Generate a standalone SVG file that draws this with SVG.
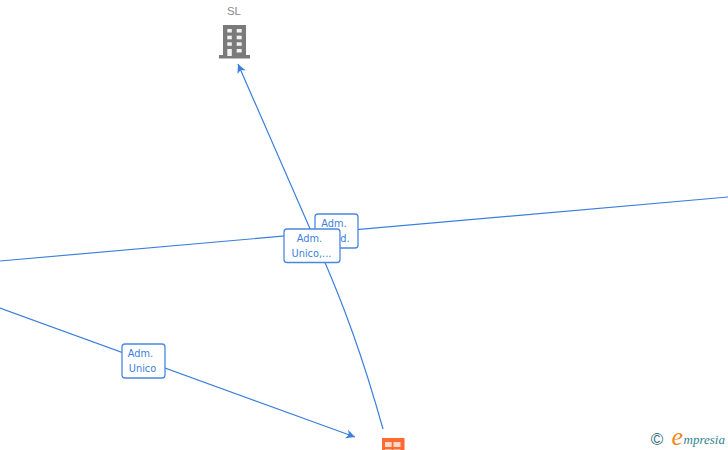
<svg xmlns="http://www.w3.org/2000/svg" width="728" height="450" viewBox="0 0 728 450">
<defs>
<style>
.edge{fill:none;stroke:#3b7fdc;stroke-width:1.2}
.lbl{fill:#fff;stroke:#4a88e0;stroke-width:1.3}
.lt{font-family:"DejaVu Sans",Verdana,sans-serif;font-size:9.8px;fill:#3b7fdc;text-anchor:middle}
</style>
<marker id="arr" markerWidth="12" markerHeight="10" refX="9" refY="5" orient="auto" markerUnits="userSpaceOnUse">
<path d="M0,0.500 L9,5 L0,9.500 L2.500,5 Z" fill="#3b7fdc"/>
</marker>
</defs>
<rect width="728" height="450" fill="#fff"/>
<g id="connectors">
<path class="edge" d="M383,429 C365,365 345,305 311,231 L238,64" marker-end="url(#arr)"/>
<path class="edge" d="M0,261 L728,197"/>
<path class="edge" d="M0,308 L355,437" marker-end="url(#arr)"/>
</g>
<g id="node-sl">
<text x="234" y="15" font-family="'Liberation Sans',Arial,sans-serif" font-size="11.500" fill="#8a8a8a" text-anchor="middle">SL</text>
<path fill="#7a7a7a" d="M223,25H246V55H250V58.500H219V55H223Z"/>
<g fill="#f2f2f2">
<rect x="227.300" y="29" width="4.500" height="3.500"/><rect x="236.700" y="29" width="5" height="3.500"/>
<rect x="227.300" y="35.700" width="4.500" height="3.600"/><rect x="236.700" y="35.700" width="5" height="3.600"/>
<rect x="227.300" y="42.300" width="4.500" height="3.500"/><rect x="236.700" y="42.300" width="5" height="3.500"/>
<rect x="227.300" y="49" width="4.500" height="7"/><rect x="236.700" y="49" width="5" height="3.500"/>
</g>
</g>
<g id="label-2">
<rect class="lbl" x="315" y="214" width="43" height="34" rx="3"/>
<text class="lt" x="334" y="227">Adm.</text>
<text class="lt" x="336" y="242">Solid.</text>
</g>
<g id="label-1">
<rect class="lbl" x="284" y="229" width="56" height="33.500" rx="3"/>
<text class="lt" x="309.500" y="242">Adm.</text>
<text class="lt" x="311.500" y="257">Unico,...</text>
</g>
<g id="label-3">
<rect class="lbl" x="122" y="344" width="43" height="34" rx="3"/>
<text class="lt" x="140.500" y="357">Adm.</text>
<text class="lt" x="142.500" y="372">Unico</text>
</g>
<g id="node-orange">
<rect x="382" y="438" width="22.500" height="12" fill="#ff6a33"/>
<rect x="385" y="442" width="6.700" height="5" fill="#ffd8c8"/>
<rect x="393.500" y="442" width="7" height="5" fill="#ffd8c8"/>
<rect x="385" y="449.300" width="6.700" height="0.700" fill="#ffd8c8"/>
<rect x="393.500" y="449.300" width="7" height="0.700" fill="#ffd8c8"/>
</g>
<g id="logo">
<text x="657" y="445" font-family="'Liberation Sans',Arial,sans-serif" font-size="17" fill="#2f6f80" text-anchor="middle">©</text>
<text x="671.500" y="445" font-family="'Liberation Serif',serif" font-style="italic" font-size="26" fill="#f08a1d">e</text>
<text x="683.500" y="443.500" font-family="'Liberation Serif',serif" font-style="italic" font-size="13" fill="#2f7f8f">mpresia</text>
</g>
</svg>
